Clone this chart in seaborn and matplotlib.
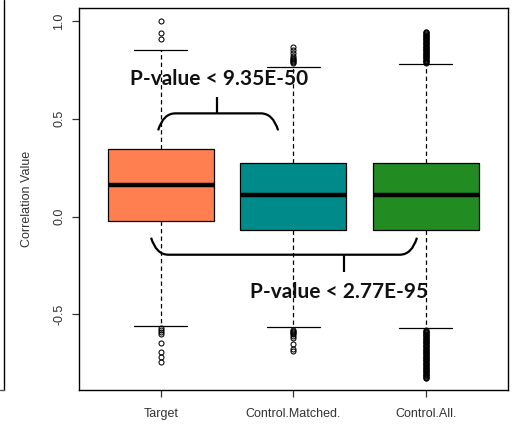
import numpy as np
import pandas as pd
import matplotlib
matplotlib.use("Agg")
import matplotlib.pyplot as plt
from matplotlib.path import Path
from matplotlib.patches import PathPatch
from matplotlib.lines import Line2D
import seaborn as sns

# categories and colours
groups = ["Target", "Control.Matched.", "Control.All."]
colors = ["#FF7F50", "#008B8B", "#228B22"]

# box stats: q1, median, q3
target_box = [-0.02, 0.16, 0.345]
matched_box = [-0.068, 0.108, 0.272]
all_box = [-0.068, 0.108, 0.272]

# whisker ends (low, high)
target_whisk = [-0.562, 0.852]
matched_whisk = [-0.566, 0.766]
all_whisk = [-0.568, 0.776]

# outliers
target_out = [1.0, 0.94, 0.91,
              -0.572, -0.58, -0.59, -0.60, -0.645, -0.695, -0.72, -0.745]
matched_out = [0.785, 0.79, 0.795, 0.80, 0.805, 0.81, 0.82, 0.835, 0.85, 0.87,
               -0.58, -0.585, -0.59, -0.595, -0.60, -0.61, -0.62, -0.65,
               -0.675, -0.69]
all_out = [0.782, 0.786, 0.79, 0.794, 0.798, 0.802, 0.806, 0.81, 0.814,
           0.818, 0.822, 0.826, 0.83, 0.834, 0.838, 0.842, 0.846, 0.85,
           0.854, 0.858, 0.862, 0.866, 0.87, 0.874, 0.878, 0.882, 0.886,
           0.89, 0.894, 0.898, 0.902, 0.906, 0.91, 0.914, 0.918, 0.922,
           0.926, 0.93, 0.934, 0.938, 0.942, 0.946,
           -0.58, -0.584, -0.588, -0.592, -0.596, -0.60, -0.604, -0.608,
           -0.612, -0.616, -0.62, -0.624, -0.628, -0.632, -0.636, -0.64,
           -0.644, -0.648, -0.652, -0.656, -0.66, -0.664, -0.668, -0.672,
           -0.676, -0.68, -0.684, -0.688, -0.692, -0.696, -0.70, -0.704,
           -0.708, -0.712, -0.716, -0.72, -0.724, -0.728, -0.732, -0.736,
           -0.74, -0.744, -0.748, -0.752, -0.756, -0.76, -0.764, -0.768,
           -0.772, -0.776, -0.78, -0.784, -0.788, -0.792, -0.796, -0.80,
           -0.804, -0.808, -0.812, -0.816, -0.82, -0.824, -0.828]

# p-value labels
p_top = "P-value < 9.35E-50"
p_bottom = "P-value < 2.77E-95"

# build long table; box stats repeated so the quartiles land on them
rows = []
for name, box, whisk, out in zip(groups, [target_box, matched_box, all_box],
                                 [target_whisk, matched_whisk, all_whisk],
                                 [target_out, matched_out, all_out]):
    vals = list(out) + list(whisk) + [v for v in box for _ in range(150)]
    for v in vals:
        rows.append({"group": name, "value": v})
df = pd.DataFrame(rows)

sns.set_theme(style="white")
plt.rcParams["font.family"] = ["Liberation Sans", "DejaVu Sans"]

fig = plt.figure(figsize=(5.16, 4.26), dpi=100)
ax = fig.add_axes([79 / 516, 1 - 390 / 426, 429 / 516, 382 / 426])

sns.boxplot(data=df, x="group", y="value", hue="group", order=groups,
            hue_order=groups, palette=colors, legend=False, width=0.8,
            linecolor="black", linewidth=0.9, saturation=1,
            whiskerprops=dict(linestyle=(0, (3.5, 2.5))),
            medianprops=dict(linewidth=3.2, color="black"),
            flierprops=dict(marker="o", markersize=3.6, markerfacecolor="none",
                            markeredgecolor="black", markeredgewidth=0.75),
            ax=ax)

ax.set_xlim(-0.617, 2.621)
ax.set_ylim(-0.887, 1.067)
ax.set_yticks([-0.5, 0.0, 0.5, 1.0])
ax.set_yticklabels(["-0.5", "0.0", "0.5", "1.0"], rotation=90, va="center")
ax.set_xlabel("")
ax.set_ylabel("Correlation Value", fontsize=9, color="#333333", labelpad=14.5)
ax.tick_params(axis="both", direction="out", length=5, width=0.9,
               labelsize=9, labelcolor="#333333", colors="#333333",
               left=True, bottom=True)
ax.tick_params(axis="x", pad=8)
ax.tick_params(axis="y", pad=5)
for s in ax.spines.values():
    s.set_color("black")
    s.set_linewidth(1.0)

# braces for the p-value comparisons
def brace(x0, x1, y_end, y_bar, tick_x, tick_y):
    r = 0.13
    verts = [(x0, y_end), (x0 + r * 0.3, y_bar), (x0 + r, y_bar),
             (x1 - r, y_bar), (x1 - r * 0.3, y_bar), (x1, y_end)]
    codes = [Path.MOVETO, Path.CURVE3, Path.CURVE3,
             Path.LINETO, Path.CURVE3, Path.CURVE3]
    ax.add_patch(PathPatch(Path(verts, codes), fill=False, lw=1.6,
                           edgecolor="black", capstyle="butt"))
    ax.plot([tick_x, tick_x], [y_bar, tick_y], color="black", lw=1.6,
            solid_capstyle="butt")

brace(-0.02, 0.886, 0.441, 0.528, 0.425, 0.610)
brace(-0.073, 1.934, -0.108, -0.195, 1.383, -0.282)

ax.text(0.44, 0.703, p_top, ha="center", va="center", fontsize=15,
        fontweight="bold", family=["Lato", "DejaVu Sans"], color="#111111")
ax.text(1.345, -0.384, p_bottom, ha="center", va="center", fontsize=15,
        fontweight="bold", family=["Lato", "DejaVu Sans"], color="#111111")

# edge of the neighbouring panel on the left
fig.add_artist(Line2D([4 / 516, 4 / 516], [1 - 390 / 426, 1.0],
                      transform=fig.transFigure, color="black", lw=1.0))
fig.add_artist(Line2D([0, 4 / 516], [1 - 390 / 426, 1 - 390 / 426],
                      transform=fig.transFigure, color="#555555", lw=1.0))

fig.savefig("out.png", dpi=100)
